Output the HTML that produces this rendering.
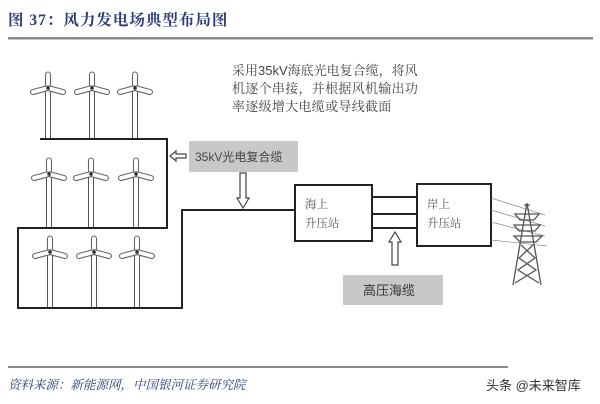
<!DOCTYPE html>
<html><head><meta charset="utf-8"><style>
html,body{margin:0;padding:0;background:#fff;width:600px;height:404px;overflow:hidden;}
svg{display:block;overflow:hidden;}
</style></head><body>
<svg width="600" height="404" viewBox="0 0 600 404" xmlns="http://www.w3.org/2000/svg" font-family="'Liberation Sans','Noto Serif CJK SC','Noto Sans CJK SC',sans-serif">
<defs>
<g id="t">
  <g fill="#fff" stroke="#666" stroke-width="1.1">
    <rect x="-2.5" y="-16" width="5" height="17" rx="2.5"/>
    <rect x="-2.5" y="-1" width="5" height="19" rx="2.5" transform="rotate(-75)"/>
    <rect x="-2.5" y="-1" width="5" height="19" rx="2.5" transform="rotate(75)"/>
  </g>
  <circle cx="0" cy="0" r="1.8" fill="#333"/>
</g>
</defs>
<text x="8" y="25" font-size="15.5" font-weight="bold" fill="#2e3b78" font-family="'Liberation Serif','Noto Serif CJK SC',serif" letter-spacing="1">图 37：风力发电场典型布局图</text>
<rect x="8" y="37" width="585" height="2.5" fill="#8a8a8a"/>

<g fill="#fff" stroke="#555" stroke-width="1">
<rect x="45.5" y="88" width="5" height="51"/><rect x="89.5" y="88" width="5" height="51"/><rect x="132.5" y="88" width="5" height="51"/>
<rect x="46.5" y="174" width="5" height="54"/><rect x="88.5" y="174" width="5" height="54"/><rect x="133.5" y="174" width="5" height="54"/>
<rect x="47.5" y="252" width="5" height="56"/><rect x="91.5" y="252" width="5" height="56"/><rect x="134.5" y="252" width="5" height="56"/>
</g>
<use href="#t" x="48" y="88"/><use href="#t" x="92" y="88"/><use href="#t" x="135" y="88"/>
<use href="#t" x="49" y="174"/><use href="#t" x="91" y="174"/><use href="#t" x="136" y="174"/>
<use href="#t" x="50" y="252"/><use href="#t" x="94" y="252"/><use href="#t" x="137" y="252"/>

<g fill="none" stroke="#222" stroke-width="2">
<polyline points="40,139 167,139 167,228 18,228 18,308 182,308 182,210 295,210"/>
<rect x="295" y="185" width="77" height="56" fill="#fff"/>
<rect x="417" y="184" width="74" height="62" fill="#fff"/>
<line x1="372" y1="197" x2="417" y2="197"/>
<line x1="372" y1="214" x2="417" y2="214"/>
<line x1="372" y1="228" x2="417" y2="228"/>
</g>

<rect x="189" y="141" width="109" height="31" fill="#c8c8c8"/>
<text x="195" y="161" font-size="12" fill="#444" font-family="'Liberation Sans','Noto Sans CJK SC',sans-serif">35kV光电复合缆</text>
<path d="M170,156 l6,-5 v3 h10 v4 h-10 v3 z" fill="#fff" stroke="#444" stroke-width="1.2"/>
<path d="M243,208 l-6,-10 h3 v-25 h6 v25 h3 z" fill="#fff" stroke="#444" stroke-width="1.2"/>
<path d="M395,232 l-6,10 h3 v23 h6 v-23 h3 z" fill="#fff" stroke="#444" stroke-width="1.2"/>
<rect x="343" y="275" width="100" height="30" fill="#c8c8c8"/>
<text x="363" y="295" font-size="13" fill="#333" font-family="'Liberation Sans','Noto Sans CJK SC',sans-serif">高压海缆</text>

<g font-size="11.5" fill="#555" font-family="'Liberation Serif','Noto Serif CJK SC',serif">
<text x="305" y="208">海上</text><text x="305" y="227">升压站</text>
<text x="427" y="208">岸上</text><text x="427" y="227">升压站</text>
</g>

<g stroke="#888" stroke-width="0.7" fill="none">
<line x1="491" y1="198" x2="545" y2="215"/>
<line x1="491" y1="210" x2="545" y2="226"/>
<line x1="491" y1="222" x2="545" y2="236"/>
<line x1="491" y1="240" x2="547" y2="246"/>
</g>
<g stroke="#555" stroke-width="1.3" fill="none">
<line x1="527" y1="203" x2="513" y2="285"/>
<line x1="527" y1="203" x2="541" y2="285"/>
<line x1="524" y1="205" x2="530" y2="205"/>
<path d="M515,214 h24 l-5,6 h-14 z"/>
<path d="M514,225 h26 l-5,6 h-16 z"/>
<path d="M514,236 h28 l-6,6 h-16 z"/>
<path d="M521,245 L535,258 L518,270 L539,283 M533,245 L519,258 L536,270 L515,283"/>
</g>

<g font-size="13" fill="#444" font-family="'Liberation Sans','Noto Serif CJK SC',serif">
<text x="232" y="75">采用35kV海底光电复合缆，将风</text>
<text x="232" y="93" letter-spacing="0.3">机逐个串接，并根据风机输出功</text>
<text x="232" y="111" letter-spacing="0.3">率逐级增大电缆或导线截面</text>
</g>

<rect x="8" y="366" width="500" height="2" fill="#8a8a8a"/>
<text x="8" y="389" font-size="12.5" font-style="italic" fill="#2e3b78" font-family="'Liberation Serif','Noto Serif CJK SC',serif">资料来源：新能源网，中国银河证券研究院</text>
<text x="486" y="390" font-size="13" fill="#333" font-family="'Liberation Sans','Noto Sans CJK SC',sans-serif">头条 @未来智库</text>
</svg>
</body></html>
